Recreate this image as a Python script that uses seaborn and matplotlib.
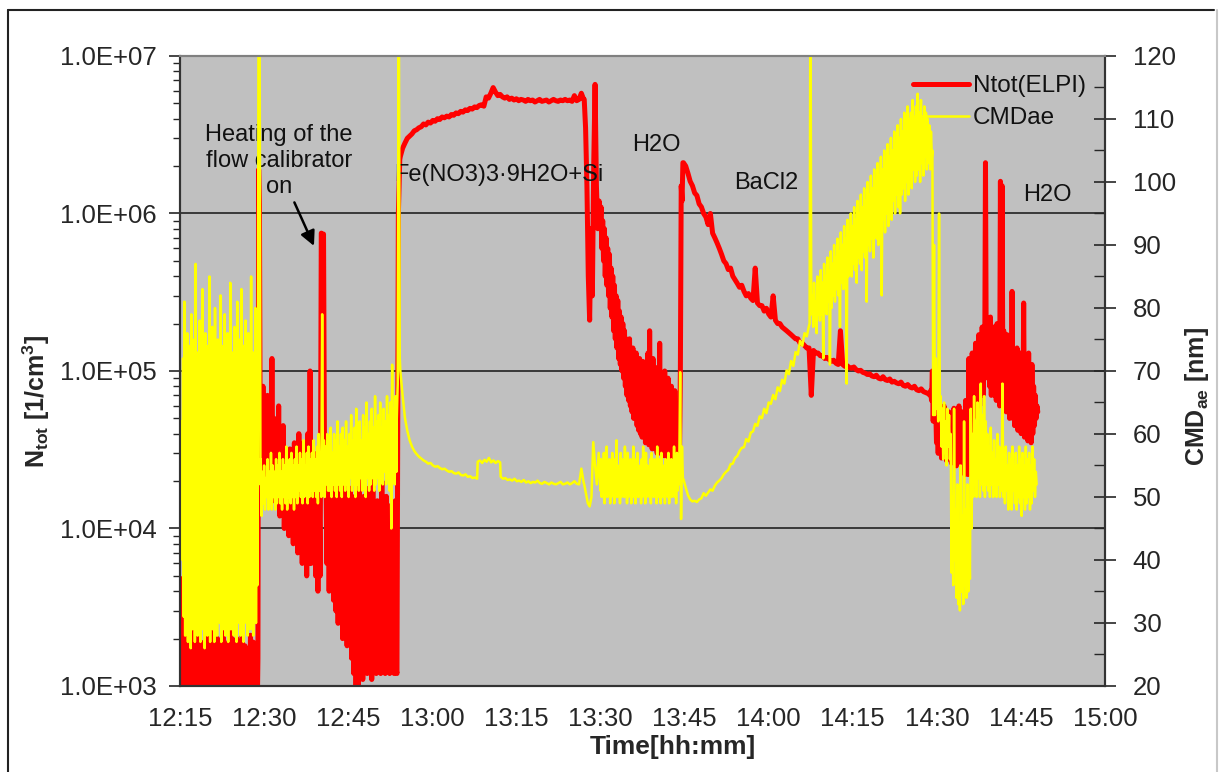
import numpy as np
import pandas as pd
import matplotlib.pyplot as plt
import matplotlib.ticker as mticker
import seaborn as sns

# x axis: minutes after 12:00, labels as printed on the chart
time_labels = ["12:15", "12:30", "12:45", "13:00", "13:15", "13:30",
               "13:45", "14:00", "14:15", "14:30", "14:45", "15:00"]

# ---- Ntot(ELPI) [1/cm3] ----
# each piece: (start minute, end minute) and the values inside it
ntot_a_span = (15.3, 28.8)
ntot_a = [4.8e3, 7e2, 3.1e3, 6e2, 2.6e3, 5e2, 1.8e3, 6e2, 2.2e3, 5e2,
          1.6e3, 7e2, 2.4e3, 5e2, 1.9e3, 6e2, 1.5e3, 5e2, 2.1e3, 6e2,
          1.7e3, 5e2, 2.6e3, 6e2, 1.6e3, 5e2, 2.0e3, 7e2, 1.8e3, 5e2,
          2.3e3, 6e2, 1.5e3, 5e2, 1.9e3, 6e2, 2.2e3, 5e2, 1.6e3, 6e2,
          2.0e3, 5e2, 1.7e3, 6e2, 2.4e3, 5e2, 1.8e3, 6e2, 1.6e3, 5e2,
          2.1e3, 6e2, 1.9e3, 5e2, 1.7e3, 8e2]
ntot_b_span = (28.9, 29.3)
ntot_b = [1.5e3, 1.9e6, 1.1e6, 4.0e4]
ntot_c_span = (29.4, 53.6)
ntot_c = [6e4, 2e4, 8e4, 1.8e4, 5e4, 2.2e4, 7e4, 1.6e4, 4.5e4, 2e4,
          1.2e5, 1.5e4, 5e4, 1.8e4, 4e4, 1.4e4, 6e4, 1.2e4, 3.5e4, 1.5e4,
          4.5e4, 1e4, 3e4, 1.2e4, 2.5e4, 9e3, 3.2e4, 1e4, 2.8e4, 8e3,
          3.5e4, 9e3, 3e4, 7e3, 4e4, 8e3, 2.6e4, 6e3, 3.5e4, 7e3,
          3e4, 5e3, 4e4, 6e3, 1e5, 6e3, 3e4, 7e3, 2.5e4, 5e3,
          3e4, 4e3, 2e4, 5e3, 7.5e5, 7.3e5, 7.4e5, 1.8e4, 3e4, 6e3,
          2.5e4, 4e3, 2e4, 4.5e3, 2.8e4, 3.5e3, 1.8e4, 3e3, 2.2e4, 2.5e3,
          1.6e4, 3e3, 2e4, 2e3, 1.5e4, 2.5e3, 2.5e4, 1.8e3, 1.4e4, 2e3,
          1.8e4, 1.5e3, 1.2e4, 1.2e3, 1.6e4, 1e3, 1.3e4, 9e2, 2e4, 1.4e3,
          1.2e4, 1.1e3, 1.6e4, 1.5e3, 1.1e4, 1.2e3, 1.8e4, 1.3e3, 1.3e4, 1.1e3,
          2.2e4, 1.4e3, 1.2e4, 1.2e3, 1.5e4, 1.3e3, 1.1e4, 1.2e3, 2e4, 1.3e3,
          1.2e4, 1.2e3, 1.6e4, 1.3e3, 1e4, 1.2e3, 1.4e4, 1.25e3, 1.2e4, 1.2e3,
          1.5e4, 1.25e3]
ntot_d_span = (53.7, 54.2)
ntot_d = [1.2e3, 1.0e6, 2.2e6]
ntot_e_span = (54.3, 87.0)
ntot_e = [2.3e6, 2.6e6, 2.8e6, 3.0e6, 3.1e6, 3.2e6, 3.35e6, 3.4e6, 3.5e6,
          3.55e6, 3.7e6, 3.65e6, 3.8e6, 3.75e6, 3.9e6, 3.85e6, 4.0e6, 3.95e6,
          4.1e6, 4.05e6, 4.15e6,
          4.1e6, 4.25e6, 4.2e6, 4.35e6, 4.3e6, 4.45e6, 4.4e6, 4.55e6, 4.5e6,
          4.65e6, 4.6e6, 4.75e6, 4.7e6, 4.85e6, 4.9e6, 4.8e6,
          5.5e6, 5.4e6, 5.8e6, 6.3e6, 5.9e6,
          5.6e6, 5.7e6, 5.5e6, 5.4e6, 5.5e6, 5.3e6, 5.4e6, 5.25e6, 5.35e6, 5.2e6,
          5.3e6, 5.25e6, 5.15e6, 5.3e6, 5.2e6, 5.25e6, 5.1e6, 5.2e6, 5.3e6, 5.15e6,
          5.2e6, 5.25e6, 5.1e6, 5.2e6, 5.3e6, 5.2e6, 5.15e6, 5.25e6, 5.2e6, 5.3e6,
          5.2e6, 5.25e6, 5.15e6, 5.6e6, 5.2e6, 5.3e6, 5.8e6, 5.3e6]
ntot_f_span = (87.1, 90.0)
ntot_f = [5.3e6, 3.5e6, 1.5e6, 4e5, 2.1e5, 8e5, 3e5, 2e6, 6.6e6, 1.5e6,
          8e5, 1.2e6, 9e5]
ntot_g_span = (90.1, 104.0)
ntot_g = [1.1e6, 6e5, 9e5, 5e5, 8e5, 4e5, 7e5, 3.5e5, 6e5, 3e5,
          5.5e5, 2.5e5, 4.5e5, 2.2e5, 4e5, 1.8e5, 3.5e5, 1.6e5, 3e5, 1.4e5,
          2.8e5, 1.2e5, 2.4e5, 1.1e5, 2.2e5, 1e5, 2e5, 9e4, 1.8e5, 8e4,
          1.6e5, 7e4, 1.5e5, 6.5e4, 1.6e5, 6e4, 1.3e5, 5.5e4, 1.4e5, 5e4,
          1.2e5, 5e4, 1.3e5, 4.5e4, 1.1e5, 4.2e4, 1.2e5, 4e4, 1.0e5, 3.8e4,
          1.15e5, 4e4, 9.5e4, 3.5e4, 1.1e5, 3.6e4, 1.3e5, 3.4e4, 1.8e5, 3.5e4,
          1.0e5, 3.2e4, 1.2e5, 3.4e4, 9e4, 3.2e4, 1.05e5, 3e4, 8.5e4, 3.2e4,
          1.5e5, 3e4, 9e4, 3.1e4, 8e4, 2.9e4, 1.0e5, 3e4, 7.5e4, 2.8e4,
          9e4, 2.9e4, 7e4, 2.7e4, 8e4, 2.8e4, 6.5e4, 2.6e4, 7.5e4, 2.7e4,
          6e4, 2.6e4, 5.5e4, 2.8e4]
ntot_h_span = (104.1, 104.7)
ntot_h = [3e4, 1e5, 1.5e6, 1.2e6, 2.1e6]
ntot_i_span = (104.8, 148.8)
ntot_i = [2.1e6, 2.0e6, 1.8e6, 1.6e6, 1.5e6, 1.35e6, 1.3e6, 1.15e6, 1.1e6, 1.0e6,
          9.5e5, 8.5e5, 1.0e6, 7.5e5, 7.0e5, 6.5e5, 6.0e5, 5.5e5, 5.0e5, 4.8e5,
          4.4e5, 4.5e5, 4.0e5, 3.8e5, 3.6e5, 3.4e5, 3.5e5, 3.2e5, 3.0e5, 3.1e5,
          2.9e5, 2.8e5, 4.5e5, 2.7e5, 2.6e5, 2.6e5, 2.4e5, 2.5e5, 2.3e5, 2.2e5,
          3.0e5, 2.1e5, 2.0e5, 2.0e5, 1.9e5, 1.85e5, 1.8e5, 1.75e5, 1.7e5, 1.65e5,
          1.6e5, 1.6e5, 1.5e5, 1.5e5, 1.45e5, 1.4e5, 1.4e5, 7.0e4, 1.35e5, 1.3e5,
          1.3e5, 1.25e5, 1.25e5, 1.2e5, 1.22e5, 1.18e5, 1.15e5, 1.17e5, 1.12e5, 1.1e5,
          1.8e5, 1.1e5, 1.07e5, 1.08e5, 1.05e5, 1.04e5, 1.06e5, 1.02e5, 1.0e5, 1.01e5,
          9.8e4, 9.7e4, 9.5e4, 9.6e4, 9.3e4, 9.2e4, 9.4e4, 9.0e4, 8.9e4, 9.2e4,
          8.8e4, 8.7e4, 8.9e4, 8.5e4, 8.6e4, 8.4e4, 8.3e4, 8.5e4, 8.1e4, 8.0e4,
          8.2e4, 7.9e4, 7.8e4, 8.0e4, 7.6e4, 7.5e4, 7.7e4, 7.4e4, 7.3e4, 7.2e4,
          7.0e4]
ntot_j_span = (148.9, 168.0)
ntot_j = [7.5e4, 6.5e4, 1.0e5, 4.8e4, 9e4, 5e4, 6e4, 3.5e4, 5.5e4, 3e4,
          6e4, 3.2e4, 5e4, 2.8e4, 5.5e4, 3.5e4, 6e4, 3e4, 5e4, 2.7e4,
          4.5e4, 3e4, 5.5e4, 2.8e4, 4e4, 2.6e4, 5e4, 3e4, 5.8e4, 3.2e4,
          4.5e4, 2.5e4, 5.2e4, 2.8e4, 6e4, 3e4, 4.8e4, 2.6e4, 5.5e4, 2.4e4,
          4.5e4, 2.2e4, 6.5e4, 2.5e4, 5e4, 2.2e4, 1.2e5, 3e4, 1.0e5, 4e4,
          1.3e5, 5e4, 1.1e5, 5.5e4, 1.5e5, 6e4, 1.3e5, 7e4, 1.7e5, 6e4,
          1.4e5, 8e4, 1.9e5, 7e4, 1.6e5, 9e4, 2.1e6, 1e5, 2.0e5, 9e4,
          1.8e5, 8e4, 2.2e5, 7e4, 1.6e5, 8e4, 1.9e5, 7e4, 1.5e5, 6.5e4,
          2.0e5, 7e4, 1.7e5, 6e4, 1.6e6, 6.5e4, 1.5e6, 7e4, 1.8e5, 6e4,
          1.4e5, 5.5e4, 1.7e5, 6e4, 1.3e5, 5e4, 1.5e5, 5.5e4, 3.2e5, 5e4,
          1.3e5, 4.5e4, 1.2e5, 5e4, 1.4e5, 4.2e4, 1.1e5, 4.5e4, 1.3e5, 4e4,
          1.0e5, 4.2e4, 2.7e5, 3.8e4, 1.2e5, 4e4, 1.0e5, 3.6e4, 1.3e5, 3.8e4,
          9e4, 3.5e4, 1.1e5, 4e4, 8e4, 4.5e4, 7e4, 5e4, 6e4, 5.5e4]

# ---- CMDae [nm] ----
cmd_a_span = (15.3, 28.8)
cmd_a = [62, 40, 72, 31, 81, 28, 70, 34, 76, 27, 68, 30, 74, 26, 79, 29, 71, 33, 75, 27,
         87, 30, 69, 28, 73, 35, 78, 27, 70, 31, 83, 29, 72, 26, 76, 34, 69, 28, 74, 30,
         85, 27, 71, 36, 77, 29, 70, 27, 80, 32, 73, 28, 75, 44, 68, 30, 82, 27, 72, 33,
         74, 29, 79, 28, 70, 35, 76, 27, 71, 30, 84, 29, 73, 42, 69, 28, 77, 31, 72, 27,
         81, 30, 70, 33, 75, 28, 83, 29, 71, 27, 74, 31, 78, 30, 70, 28, 76, 34, 72, 29,
         85, 31, 73, 28, 69, 35, 80, 30, 74, 36]
cmd_b_span = (28.85, 29.35)
cmd_b = [40, 135, 135, 52]
cmd_c_span = (29.4, 53.6)
cmd_c = [56, 47, 54, 49, 55, 48, 53, 50, 56, 48, 54, 49, 57, 48, 55, 50, 54, 48, 56, 49,
         55, 50, 57, 49, 54, 48, 56, 50, 55, 49, 58, 48, 54, 50, 56, 49, 57, 50, 55, 48,
         56, 50, 58, 49, 55, 51, 57, 50, 56, 49, 59, 50, 55, 51, 57, 49, 58, 50, 56, 51,
         57, 50, 59, 51, 56, 50, 58, 49, 60, 51, 57, 50, 79, 51, 59, 50, 58, 52, 60, 51,
         58, 51, 61, 50, 57, 52, 60, 51, 59, 50, 62, 52, 58, 51, 60, 50, 61, 52, 59, 51,
         62, 52, 58, 50, 60, 53, 63, 51, 59, 52, 61, 50, 64, 52, 60, 51, 62, 53, 59, 51,
         63, 52, 61, 50, 65, 53, 60, 51, 62, 52, 64, 53, 61, 51, 66, 52, 62, 53, 63, 51,
         65, 53, 61, 52, 64, 54, 62, 52, 66, 53, 63, 51, 65, 45, 71, 53, 64, 52, 66, 54]
cmd_d_span = (53.65, 54.2)
cmd_d = [62, 68, 135, 72]
cmd_e1_span = (54.3, 68.0)
cmd_e1 = [70, 66, 62.5, 60.5, 59, 58, 57.3, 56.8, 56.4, 56.1, 55.8, 55.6, 55.3, 55.4,
          55.0, 54.8, 54.9, 54.6, 54.4, 54.5, 54.2, 54.0, 54.1, 53.8, 53.7, 53.9, 53.5,
          53.4, 53.6, 53.2, 53.3, 53.0, 53.1, 52.9]
cmd_e2_span = (68.1, 72.1)
cmd_e2 = [55.6, 55.8, 55.4, 55.9, 55.6, 56.2, 55.5, 55.8, 55.4, 55.7, 55.5]
cmd_e3_span = (72.2, 87.0)
cmd_e3 = [53.2, 52.9, 53.0, 52.7, 52.8, 52.6, 52.9, 52.5, 52.6, 52.4, 52.7, 52.3, 52.5,
          52.2, 52.4, 52.3, 52.6, 52.2, 52.1, 52.4, 52.2, 52.0, 52.3, 52.1, 52.0, 52.2,
          52.4, 52.0, 52.1, 52.3, 52.0, 52.2, 52.5, 52.1, 52.0, 54.5, 52.3]
cmd_f_span = (87.1, 90.0)
cmd_f = [52.0, 50.5, 49.0, 48.5, 50, 58.7, 55, 52, 57, 51]
cmd_g_span = (90.1, 104.0)
cmd_g = [56, 50, 54, 51, 57, 49, 55, 52, 58, 50, 53, 51, 56, 49, 55, 50, 57, 51, 54, 49,
         56, 52, 59, 50, 55, 51, 53, 49, 57, 50, 56, 52, 54, 50, 58, 51, 55, 49, 57, 50,
         54, 51, 56, 49, 55, 52, 58, 50, 53, 49, 56, 51, 57, 50, 54, 52, 55, 49, 56, 50,
         58, 51, 54, 49, 57, 50, 55, 52, 53, 50, 56, 49, 57, 51, 54, 50, 56, 52, 55, 49,
         58, 50, 54, 51, 56, 49, 57, 50, 55, 52, 53, 49, 56, 51, 54, 50, 57, 49, 55, 52,
         56, 50, 54, 51, 58, 50, 55, 49, 57, 51, 56, 52]
cmd_h_span = (104.05, 104.7)
cmd_h = [54, 69.8, 46.5, 58, 52.8]
cmd_i_span = (104.8, 127.2)
cmd_i = [52.8, 51.5, 50.3, 49.6, 49.3, 49.4, 49.2, 49.6, 49.8, 50.6, 50.2, 50.7, 51.2,
         51.0, 51.8, 52.3, 52.6, 53.0, 53.6, 54.0, 54.3, 55.2, 55.3, 56.2, 56.5, 57.3,
         57.8, 57.9, 59.2, 58.8, 60.2, 60.4, 61.6, 61.3, 62.8, 62.5, 64.0, 63.3, 65.0,
         64.8, 66.2, 65.5, 67.4, 66.8, 68.6, 68.0, 70.1, 69.5, 71.6, 70.8, 73.0, 72.6,
         74.8, 74.0, 76.0, 75.5, 77.2]
cmd_j_span = (127.3, 127.6)
cmd_j = [77.5, 135, 79]
cmd_k_span = (127.8, 149.1)
cmd_k = [82, 77, 84, 78, 81, 76, 85, 79, 83, 78, 86, 79, 84, 72, 87, 80, 85, 79, 88, 81,
         86, 71, 89, 80, 87, 82, 90, 81, 88, 83, 91, 82, 89, 77, 92, 84, 90, 83, 93, 85,
         91, 68, 94, 85, 92, 86, 95, 85, 93, 87, 96, 86, 94, 84, 97, 88, 95, 87, 98, 86,
         96, 89, 99, 88, 97, 81, 100, 90, 98, 89, 101, 91, 99, 88, 102, 92, 100, 91, 103, 90,
         101, 93, 104, 82, 102, 94, 105, 92, 103, 95, 106, 93, 104, 96, 107, 94, 105, 97,
         108, 95, 106, 98, 109, 96, 107, 95, 110, 98, 108, 99, 111, 97, 109, 100, 112, 98,
         110, 101, 111, 99, 113, 102, 110, 100, 112, 101, 114, 102, 111, 100, 113, 103,
         110, 101, 112, 104, 111, 102, 110, 103, 109, 102, 108, 104]
cmd_l_span = (149.2, 167.8)
cmd_l = [105, 63, 90, 63, 72, 64, 68, 62, 95, 63, 66, 58, 64, 56, 65, 57, 62, 55, 64, 58,
         63, 56, 60, 38, 50, 36, 64, 40, 48, 34, 52, 33, 46, 32, 55, 35, 47, 33, 62, 36,
         48, 34, 52, 35, 45, 37, 64, 45, 60, 50, 66, 52, 62, 50, 65, 53, 61, 50, 68, 52,
         63, 51, 66, 50, 62, 52, 60, 51, 58, 50, 61, 52, 57, 50, 59, 51, 56, 50, 60, 52,
         58, 50, 57, 51, 68, 50, 57, 49, 58, 51, 55, 48, 57, 50, 56, 48, 58, 51, 54, 49,
         57, 48, 55, 50, 58, 49, 56, 47, 57, 50, 55, 48, 58, 49, 56, 50, 57, 48, 55, 49,
         58, 51, 56, 50, 54, 52]


def build(parts):
    t, v = [], []
    for (t0, t1), vals in parts:
        t.extend(np.linspace(t0, t1, len(vals)))
        v.extend(vals)
    return pd.DataFrame({"minute": t, "value": v})


ntot = build([(ntot_a_span, ntot_a), (ntot_b_span, ntot_b), (ntot_c_span, ntot_c),
              (ntot_d_span, ntot_d), (ntot_e_span, ntot_e), (ntot_f_span, ntot_f),
              (ntot_g_span, ntot_g), (ntot_h_span, ntot_h), (ntot_i_span, ntot_i),
              (ntot_j_span, ntot_j)])
cmd = build([(cmd_a_span, cmd_a), (cmd_b_span, cmd_b), (cmd_c_span, cmd_c),
             (cmd_d_span, cmd_d), (cmd_e1_span, cmd_e1), (cmd_e2_span, cmd_e2),
             (cmd_e3_span, cmd_e3), (cmd_f_span, cmd_f), (cmd_g_span, cmd_g),
             (cmd_h_span, cmd_h), (cmd_i_span, cmd_i), (cmd_j_span, cmd_j),
             (cmd_k_span, cmd_k), (cmd_l_span, cmd_l)])

sns.set_style("white")
plt.rcParams['font.family'] = ['Liberation Sans', 'DejaVu Sans']
plt.rcParams['mathtext.fontset'] = 'custom'
plt.rcParams['mathtext.rm'] = 'Liberation Sans'
plt.rcParams['mathtext.bf'] = 'Liberation Sans:bold'
plt.rcParams['text.color'] = '#111111'

fig = plt.figure(figsize=(12.22, 7.72), dpi=100)
ax = fig.add_axes([0.1473, 0.1114, 0.757, 0.8161])
ax.set_facecolor('#C0C0C0')
ax.set_yscale('log')
ax.set_axisbelow(True)

sns.lineplot(data=ntot, x="minute", y="value", ax=ax, color="#FF0000", linewidth=3.6,
             estimator=None, sort=False, legend=False)

ax2 = ax.twinx()
sns.lineplot(data=cmd, x="minute", y="value", ax=ax2, color="#FFFF00", linewidth=1.8,
             estimator=None, sort=False, legend=False)

# x axis
tick_pos = [int(s[:2]) * 60 + int(s[3:]) - 720 for s in time_labels]
ax.set_xlim(tick_pos[0], tick_pos[-1])
ax.set_xticks(tick_pos, time_labels)
ax.xaxis.set_minor_locator(mticker.MultipleLocator(5))
ax.set_xlabel("Time[hh:mm]", fontsize=19, fontweight='bold')
ax.xaxis.set_label_coords(0.533, -0.078)

# left axis
ax.set_ylim(1e3, 1e7)
ax.yaxis.set_major_locator(mticker.LogLocator(base=10))
ax.yaxis.set_minor_locator(mticker.LogLocator(base=10, subs=np.arange(2, 10)))
ax.yaxis.set_major_formatter(mticker.FuncFormatter(lambda v, p: f"{v:.1E}"))
ax.yaxis.set_minor_formatter(mticker.NullFormatter())
ax.set_ylabel(r"N$_{\mathbf{tot}}$ [1/cm$^{\mathbf{3}}$]", fontsize=18, fontweight='bold')
ax.yaxis.set_label_coords(-0.138, 0.452)
ax.grid(axis='y', which='major', color='#222222', linewidth=1.2)

# right axis
ax2.set_ylim(20, 120)
ax2.set_yticks(np.arange(20, 121, 10))
ax2.yaxis.set_minor_locator(mticker.MultipleLocator(5))
ax2.set_ylabel(r"CMD$_{\mathbf{ae}}$ [nm]", fontsize=18, fontweight='bold')
ax2.yaxis.set_label_coords(1.084, 0.459)

ax.tick_params(axis='y', which='major', direction='out', length=8, width=1.2, labelsize=18.5, pad=9)
ax.tick_params(axis='y', which='minor', direction='out', length=5, width=1)
ax.tick_params(axis='x', which='major', direction='inout', length=14, width=1.2, labelsize=18.5, pad=8)
ax.tick_params(axis='x', which='minor', direction='out', length=6, width=1)
ax2.tick_params(axis='y', which='major', direction='inout', length=16, width=1.2, labelsize=18.5, pad=12)
ax2.tick_params(axis='y', which='minor', direction='in', length=8, width=1)

for a in (ax, ax2):
    for side in ('left', 'right', 'bottom'):
        a.spines[side].set_color('#333333')
        a.spines[side].set_linewidth(1.5)
    a.spines['top'].set_color('#808080')
    a.spines['top'].set_linewidth(1.5)

# annotations
ax.text(32.7, 2.15e6, "Heating of the\nflow calibrator\non", ha='center', va='center',
        fontsize=17, linespacing=1.25)
ax.annotate("", xy=(39.1, 6.0e5), xytext=(35.2, 1.22e6),
            arrowprops=dict(arrowstyle='-|>', color='black', lw=1.8, mutation_scale=22))
ax.text(71.9, 1.75e6, "Fe(NO3)3·9H2O+Si", ha='center', va='center', fontsize=17)
ax.text(99.9, 2.72e6, "H2O", ha='center', va='center', fontsize=17)
ax.text(119.5, 1.56e6, "BaCl2", ha='center', va='center', fontsize=17)
ax.text(169.7, 1.31e6, "H2O", ha='center', va='center', fontsize=17)

# legend
h1 = ax.get_lines()[0]
h2 = ax2.get_lines()[0]
ax2.legend([h1, h2], ["Ntot(ELPI)", "CMDae"], loc='upper right', bbox_to_anchor=(1.0, 1.0),
           frameon=False, fontsize=17.5, handlelength=2.3, handletextpad=0.15,
           labelspacing=0.4, borderaxespad=0.5, borderpad=0.3)

# thin frame around the whole picture
fig.add_artist(plt.Line2D([0.0065, 0.0065], [0.0, 0.987], transform=fig.transFigure,
                          color='#222222', lw=1.5))
fig.add_artist(plt.Line2D([0.0065, 0.9935], [0.987, 0.987], transform=fig.transFigure,
                          color='#222222', lw=1.5))
fig.add_artist(plt.Line2D([0.9955, 0.9955], [0.0, 0.987], transform=fig.transFigure,
                          color='#C8C8C8', lw=1.5))

fig.savefig("out.png", dpi=100)
